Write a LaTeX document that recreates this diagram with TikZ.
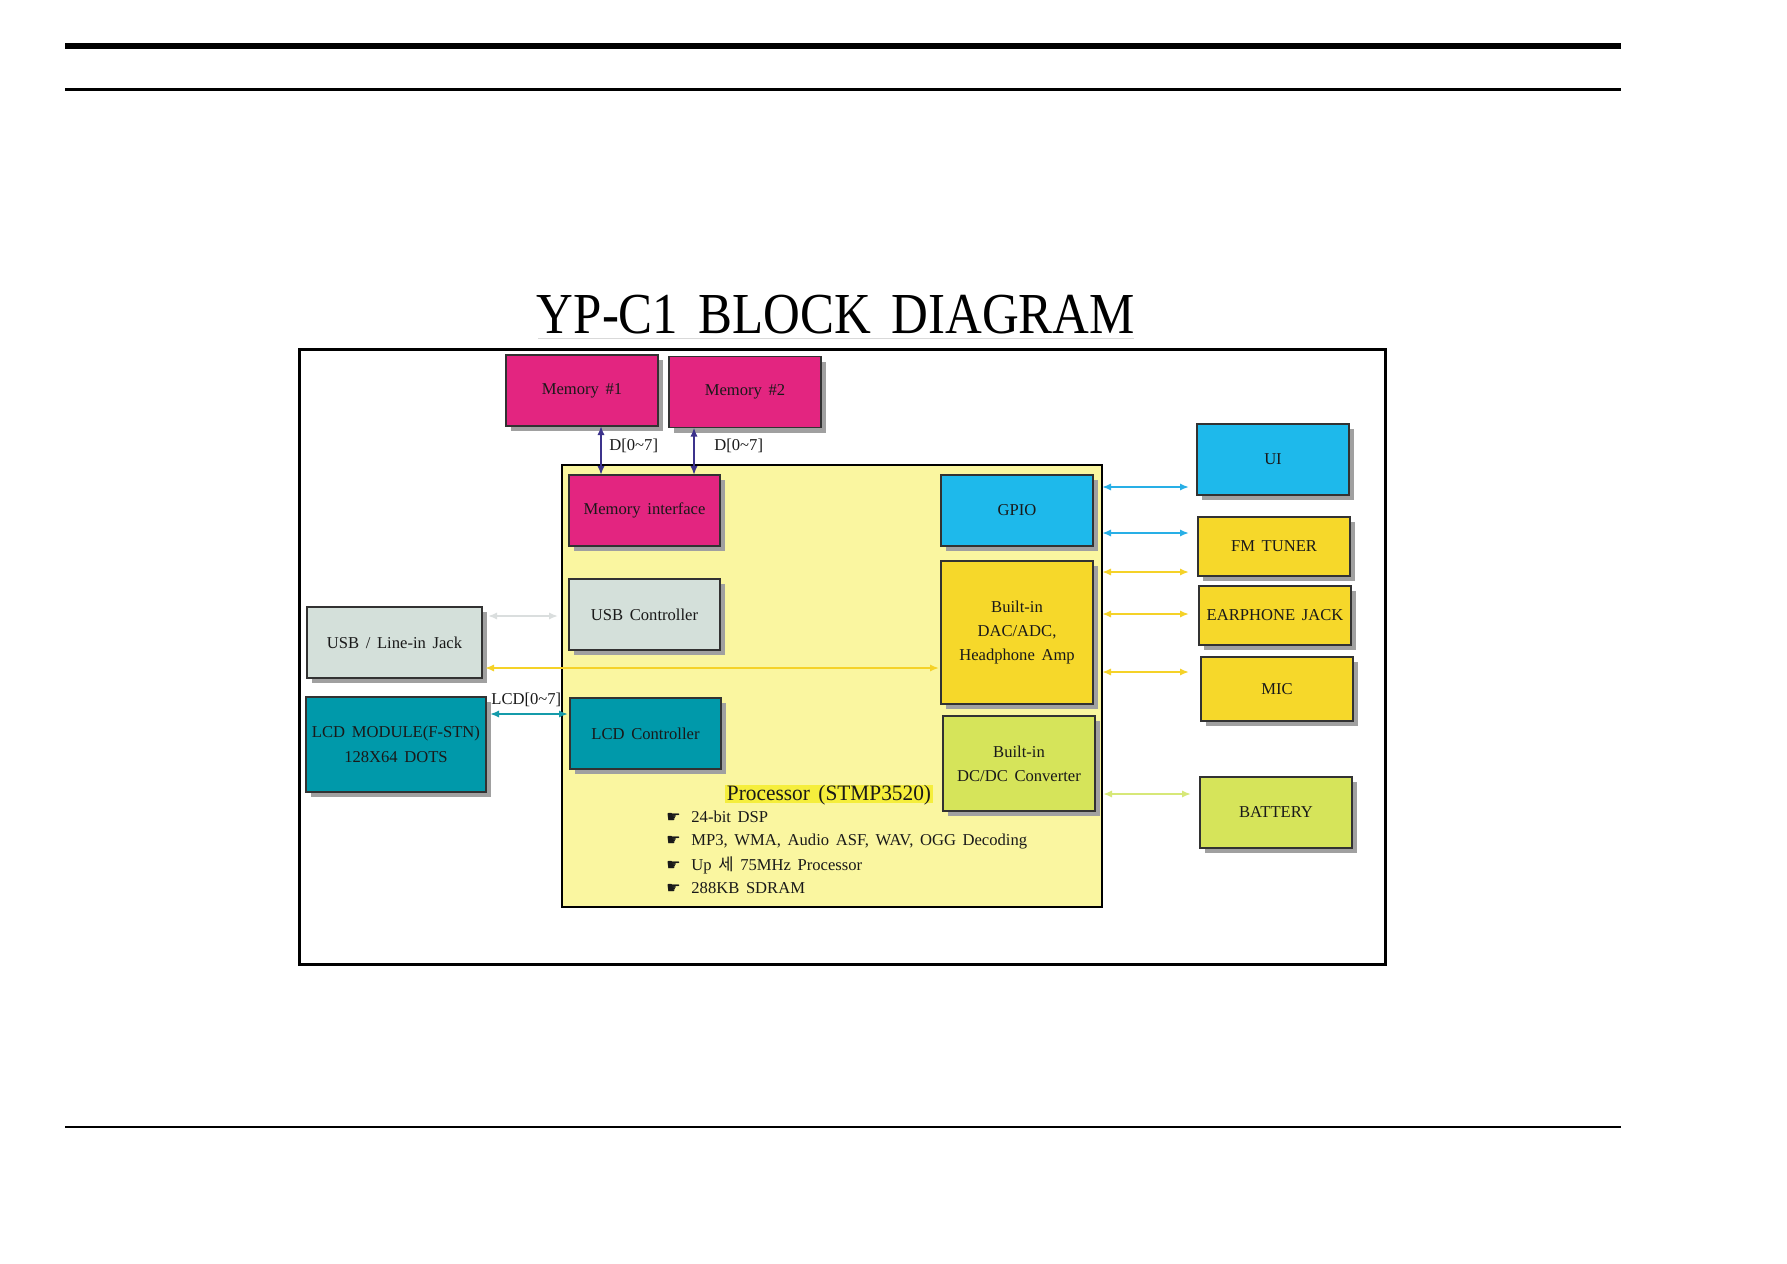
\documentclass[tikz,border=0pt]{standalone}
\usepackage{fontspec}
\setmainfont{Liberation Serif}[WordSpace=1.6]
\newfontfamily\krfont{Noto Sans CJK KR}
\newfontfamily\handfont{DejaVu Sans}
\usetikzlibrary{arrows.meta,shadows}
\definecolor{cMag}{RGB}{227,37,128}
\definecolor{cBlue}{RGB}{30,185,235}
\definecolor{cYel}{RGB}{246,216,42}
\definecolor{cGreen}{RGB}{214,228,90}
\definecolor{cUSB}{RGB}{212,224,218}
\definecolor{cTeal}{RGB}{0,153,170}
\definecolor{cPale}{RGB}{250,246,160}
\definecolor{cHi}{RGB}{245,238,60}
\definecolor{cShadow}{RGB}{160,160,160}
\definecolor{cBorder}{RGB}{50,50,50}
\definecolor{cText}{RGB}{25,25,25}
\definecolor{aBlue}{RGB}{40,175,230}
\definecolor{aYel}{RGB}{245,210,40}
\definecolor{aGreen}{RGB}{215,232,120}
\definecolor{aGray}{RGB}{218,222,222}
\definecolor{aTeal}{RGB}{20,155,170}
\definecolor{aMem}{RGB}{60,50,140}
\begin{document}
\begin{tikzpicture}[x=0.5pt,y=-0.5pt,
  blk/.style={draw=cBorder, line width=0.7pt, inner sep=0pt, outer sep=0pt,
    align=center, font=\fontsize{8.3}{12}\selectfont, text=cText,
    general shadow={fill=cShadow, shadow xshift=2.5pt, shadow yshift=-2.5pt}},
  lbl/.style={inner sep=0pt, font=\fontsize{8.3}{10}\selectfont, text=cText},
  bitxt/.style={inner sep=0pt, anchor=base west, font=\fontsize{8.3}{10}\selectfont, text=cText},
  biarrow/.style={{Latex[length=4.5pt,width=3.6pt]}-{Latex[length=4.5pt,width=3.6pt]}, line width=0.9pt}
]
\useasboundingbox (0,0) rectangle (1787,1263);
\fill[white] (0,0) rectangle (1787,1263);

% page rules
\draw[line width=3pt] (65,46) -- (1621,46);
\draw[line width=1.5pt] (65,89.5) -- (1621,89.5);
\draw[line width=1.2pt] (65,1127) -- (1621,1127);

% title
\node[anchor=base, inner sep=0pt, font=\fontsize{29}{34}\selectfont] (title) at (836,333) {\scalebox{0.878}[1]{YP-C1 BLOCK DIAGRAM}};
\draw[black!15, line width=0.5pt] (538,338) -- (1134,338);

% frame
\draw[line width=1.5pt] (299,349) rectangle (1385,964);

% processor
\node[draw=black, line width=1.2pt, fill=cPale, minimum width=270pt, minimum height=221pt, inner sep=0pt, outer sep=0pt] (proc) at (832,686) {};

% memories
\node[blk, fill=cMag, minimum width=76pt, minimum height=35.5pt] (mem1) at (582,390.5) {Memory \#1};
\node[blk, fill=cMag, minimum width=76pt, minimum height=35.5pt] (mem2) at (745,392) {Memory \#2};

% inner blocks
\node[blk, fill=cMag, minimum width=75.5pt, minimum height=35.5pt] (memif) at (644.5,510.5) {Memory interface};
\node[blk, fill=cUSB, minimum width=75.5pt, minimum height=35.5pt] (usbc) at (644.5,614.5) {USB Controller};
\node[blk, fill=cTeal, minimum width=75.5pt, minimum height=35.5pt] (lcdc) at (645.5,733.5) {LCD Controller};
\node[blk, fill=cBlue, minimum width=76pt, minimum height=35.5pt] (gpio) at (1017,510.5) {GPIO};
\node[blk, fill=cYel, minimum width=76pt, minimum height=71.5pt] (dac) at (1017,632.5) {Built-in\\DAC/ADC,\\Headphone Amp};
\node[blk, fill=cGreen, minimum width=76pt, minimum height=47.5pt] (dcdc) at (1019,763.5) {Built-in\\DC/DC Converter};

% left blocks
\node[blk, fill=cUSB, minimum width=87.5pt, minimum height=35.5pt] (usbj) at (394.5,642.5) {USB / Line-in Jack};
\node[blk, fill=cTeal, minimum width=90pt, minimum height=47.5pt, font=\fontsize{8.3}{12.5}\selectfont] (lcdm) at (396,744.5) {LCD MODULE(F-STN)\\128X64 DOTS};

% right blocks
\node[blk, fill=cBlue, minimum width=76pt, minimum height=35.5pt] (ui) at (1273,459.5) {UI};
\node[blk, fill=cYel, minimum width=76pt, minimum height=29.5pt] (fm) at (1274,546.5) {FM TUNER};
\node[blk, fill=cYel, minimum width=76pt, minimum height=29.5pt] (ear) at (1275,615.5) {EARPHONE JACK};
\node[blk, fill=cYel, minimum width=76pt, minimum height=32pt] (mic) at (1277,689) {MIC};
\node[blk, fill=cGreen, minimum width=76pt, minimum height=35.5pt] (bat) at (1276,812.5) {BATTERY};

% processor text
\node[fill=cHi, inner xsep=1pt, inner ysep=0pt, text height=7.6pt, text depth=1.6pt, font=\fontsize{11}{13}\selectfont, text=cText] (ptitle) at (829,794) {\scalebox{0.97}[1]{Processor (STMP3520)}};
\foreach \yy/\tt [count=\i] in {822/{24-bit DSP}, 845.5/{MP3, WMA, Audio ASF, WAV, OGG Decoding}, 870/{Up {\krfont 세} 75MHz Processor}, 893.5/{288KB SDRAM}}{
  \node[inner sep=0pt, anchor=base west, font=\handfont\fontsize{8}{10}\selectfont, text=cText] (hand\i) at (666,\yy) {☛};
  \node[bitxt] (bul\i) at (691,\yy) {\tt};
}

% connectors
\coordinate (xm1) at (601,0);
\coordinate (xm2) at (694,0);
\draw[biarrow, aMem] (mem1.south -| xm1) -- (memif.north -| xm1);
\draw[biarrow, aMem] (mem2.south -| xm2) -- (memif.north -| xm2);
\node[lbl, anchor=west] (d1) at (609,446) {D[0\textasciitilde 7]};
\node[lbl, anchor=west] (d2) at (714,446) {D[0\textasciitilde 7]};

\coordinate (yUSB) at (0,616);
\coordinate (yAud) at (0,668);
\coordinate (yLCD) at (0,714);
\draw[biarrow, aGray, shorten <=3pt, shorten >=5.5pt] (usbj.east |- yUSB) -- (usbc.west |- yUSB);
\draw[biarrow, aYel, shorten <=1.5pt, shorten >=1pt] (usbj.east |- yAud) -- (dac.west |- yAud);
\draw[biarrow, aTeal, shorten <=2pt, shorten >=1pt] (lcdm.east |- yLCD) -- (lcdc.west |- yLCD);
\node[lbl, anchor=west] (lcdlbl) at (491,700) {LCD[0\textasciitilde 7]};

\coordinate (yR1) at (0,487);
\coordinate (yR2) at (0,533);
\coordinate (yR3) at (0,572);
\coordinate (yR4) at (0,614);
\coordinate (yR5) at (0,672);
\coordinate (yR6) at (0,794);
\draw[biarrow, aBlue, shorten >=4pt] (proc.east |- yR1) -- (ui.west |- yR1);
\draw[biarrow, aBlue, shorten >=4.5pt] (proc.east |- yR2) -- (fm.west |- yR2);
\draw[biarrow, aYel, shorten >=4.5pt] (proc.east |- yR3) -- (fm.west |- yR3);
\draw[biarrow, aYel, shorten >=5pt] (proc.east |- yR4) -- (ear.west |- yR4);
\draw[biarrow, aYel, shorten >=6pt] (proc.east |- yR5) -- (mic.west |- yR5);
\draw[biarrow, aGreen, shorten <=0.5pt, shorten >=4.5pt] (proc.east |- yR6) -- (bat.west |- yR6);
\end{tikzpicture}
\end{document}
